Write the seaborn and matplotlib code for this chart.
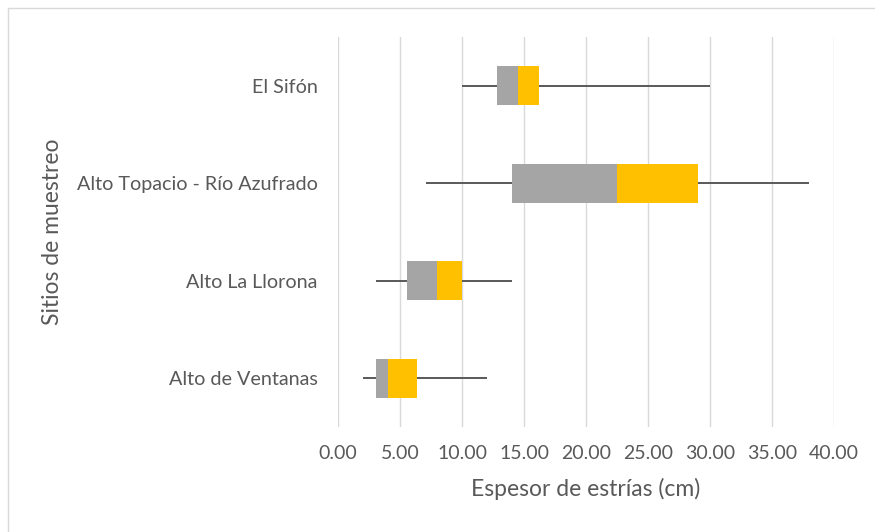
import matplotlib
matplotlib.use("Agg")
import matplotlib.pyplot as plt
import seaborn as sns
import pandas as pd
from matplotlib.patches import Rectangle

sites = ["El Sifón", "Alto Topacio - Río Azufrado", "Alto La Llorona", "Alto de Ventanas"]
mins = [10.0, 7.1, 3.05, 2.05]
q1s = [12.8, 14.0, 5.55, 3.05]
medians = [14.5, 22.5, 8.0, 4.05]
q3s = [16.2, 29.0, 10.0, 6.35]
maxs = [30.0, 38.0, 14.05, 12.0]
xticks = [0, 5, 10, 15, 20, 25, 30, 35, 40]

df = pd.DataFrame({"site": sites, "min": mins, "q1": q1s, "med": medians,
                   "q3": q3s, "max": maxs})
df["lower"] = df["med"] - df["q1"]
df["upper"] = df["q3"] - df["med"]

sns.set_theme(style="white")
plt.rcParams['font.family'] = ['Lato', 'DejaVu Sans']

fig = plt.figure(figsize=(8.75, 5.32), dpi=100)
ax = fig.add_axes([338/875, 1 - 427/532, (834 - 338)/875, (427 - 37)/532])

txt = "#595959"
pos = list(range(len(sites)))

# whiskers
ax.hlines(pos, df["min"], df["max"], color="#595959", linewidth=1.4, zorder=2)
# box segments
ax.barh(pos, df["lower"], left=df["q1"], height=0.4, color="#A5A5A5",
        linewidth=0, zorder=3)
ax.barh(pos, df["upper"], left=df["med"], height=0.4, color="#FFC000",
        linewidth=0, zorder=3)

ax.set_xlim(0, 40)
ax.set_ylim(len(sites) - 0.5, -0.5)
ax.set_xticks(xticks)
ax.set_xticklabels([f"{v:.2f}" for v in xticks], color=txt, fontsize=14)
ax.set_yticks(pos)
ax.set_yticklabels(sites, color=txt, fontsize=14.2)
ax.tick_params(axis="x", length=0, pad=13)
ax.tick_params(axis="y", length=0, pad=14.5)
ax.grid(axis="x", color="#D9D9D9", linewidth=1)
ax.set_axisbelow(True)
for s in ax.spines.values():
    s.set_visible(False)

fig.text(586/875, 1 - 489/532, "Espesor de estrías (cm)", color=txt,
         fontsize=16.5, ha="center", va="center")
fig.text(53/875, 1 - 232/532, "Sitios de muestreo", color=txt,
         fontsize=16.5, ha="center", va="center", rotation=90)

fig.patches.append(Rectangle((8/875, -0.1), 1.2, 1 - 8/532 + 0.1,
                             transform=fig.transFigure, fill=False,
                             edgecolor="#D9D9D9", linewidth=1))

fig.savefig("out.png", dpi=100, facecolor="white")
